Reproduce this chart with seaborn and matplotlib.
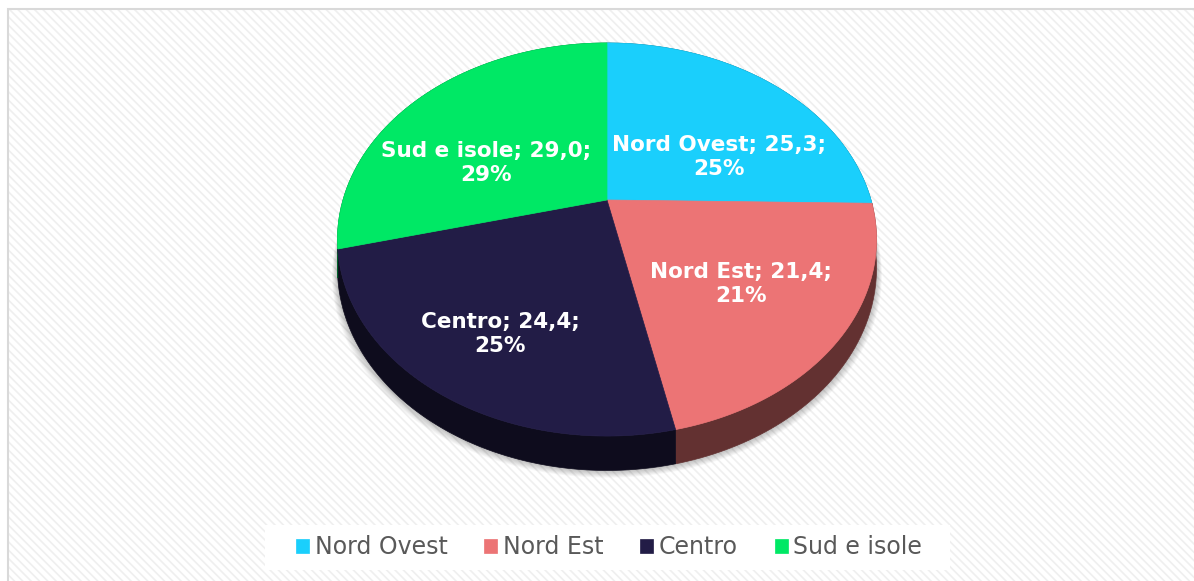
import numpy as np
import matplotlib
matplotlib.use("Agg")
import matplotlib.pyplot as plt
import seaborn as sns
from matplotlib.patches import Polygon, Rectangle
from matplotlib.colors import to_rgb

sns.set_theme(style="white")
plt.rcParams["font.family"] = ["DejaVu Sans"]
plt.rcParams["hatch.linewidth"] = 1.2

# data
regions = ["Nord Ovest", "Nord Est", "Centro", "Sud e isole"]
values = [25.3, 21.4, 24.4, 29.0]
pct_labels = ["25%", "21%", "25%", "29%"]
colors = ["#1acffc", "#ec7475", "#221c46", "#00e865"]

# label centres (pixels) - where Excel put them
label_pos = [(719, 157), (741, 284), (500, 334), (486, 163)]

# 3d look of the pie (pixels)
CX, CY = 607, 200
RX, RY, G = 264, 188.6, 0.201
DEPTH = 27.5


def project(theta, drop=0.0):
    t = np.radians(theta)
    w = 1 + G * np.sin(t)
    return np.column_stack([CX + RX * np.cos(t) / w,
                            CY - RY * np.sin(t) / w + drop / w])


fig = plt.figure(figsize=(11.94, 5.81), dpi=100)
fig.patch.set_facecolor("white")

# striped background + thin frame
bg = Rectangle((8 / 1194, -0.1), 1.2, 1 - 9 / 581 + 0.1, transform=fig.transFigure,
               facecolor="white", edgecolor="#efefef", lw=0, hatch="\\\\\\\\",
               zorder=-5)
fig.patches.append(bg)
frame = Rectangle((8 / 1194, -0.1), 1.2, 1 - 9 / 581 + 0.1, transform=fig.transFigure,
                  facecolor="none", edgecolor="#d9d9d9", lw=1.5, zorder=-4)
fig.patches.append(frame)

ax = fig.add_axes([0, 0, 1, 1])
ax.patch.set_alpha(0)

# let the pie work out the angles, then redraw the wedges in perspective
wedges, _ = ax.pie(values, colors=colors, startangle=90, counterclock=False)
angles = [(w.theta1, w.theta2) for w in wedges]
for w in wedges:
    w.remove()

# soft shadow under the pie
full = np.linspace(0, 360, 361)
base = project(full, DEPTH)
bc = base.mean(axis=0)
for k in range(8, 0, -1):
    pts = bc + (base - bc) * np.array([1 + k * 0.0025, 1.0]) + [0, k * 0.9]
    ax.add_patch(Polygon(pts, closed=True, facecolor="#000000", alpha=0.03,
                         lw=0, zorder=1))

# side wall, one piece per slice
for (t1, t2), c in zip(angles, colors):
    th = np.linspace(t1, t2, 200)
    side = np.vstack([project(th), project(th[::-1], DEPTH)])
    dark = np.array(to_rgb(c)) * 0.42
    ax.add_patch(Polygon(side, closed=True, facecolor=dark, edgecolor=dark,
                         lw=0.5, zorder=2))

# top faces
tops = []
for (t1, t2), c, name in zip(angles, colors, regions):
    th = np.linspace(t1, t2, 200)
    pts = np.vstack([[CX, CY], project(th)])
    p = Polygon(pts, closed=True, facecolor=c, edgecolor=c, lw=0.5,
                zorder=3, label=name)
    ax.add_patch(p)
    tops.append(p)

# data labels
for name, v, pct, (lx, ly) in zip(regions, values, pct_labels, label_pos):
    txt = f"{name}; {v:.1f};\n{pct}".replace(".", ",")
    ax.text(lx, ly, txt, ha="center", va="center", color="white",
            fontsize=15.5, fontweight="bold", linespacing=1.3, zorder=5)

ax.set_xlim(0, 1194)
ax.set_ylim(581, 0)
ax.set_aspect("auto")
ax.axis("off")

# white box behind the legend
ax.add_patch(Rectangle((265, 525), 685, 45, facecolor="white", lw=0, zorder=4))
leg = ax.legend(handles=tops, labels=regions, loc="center",
                bbox_to_anchor=(609 / 1194, 1 - 547 / 581), ncol=4,
                frameon=False, fontsize=17, handlelength=0.55,
                handleheight=0.55, handletextpad=0.25, columnspacing=1.55,
                borderpad=0.3, borderaxespad=0)
leg.set_zorder(6)
for t in leg.get_texts():
    t.set_color("#595959")

fig.savefig("out.png", dpi=100)
